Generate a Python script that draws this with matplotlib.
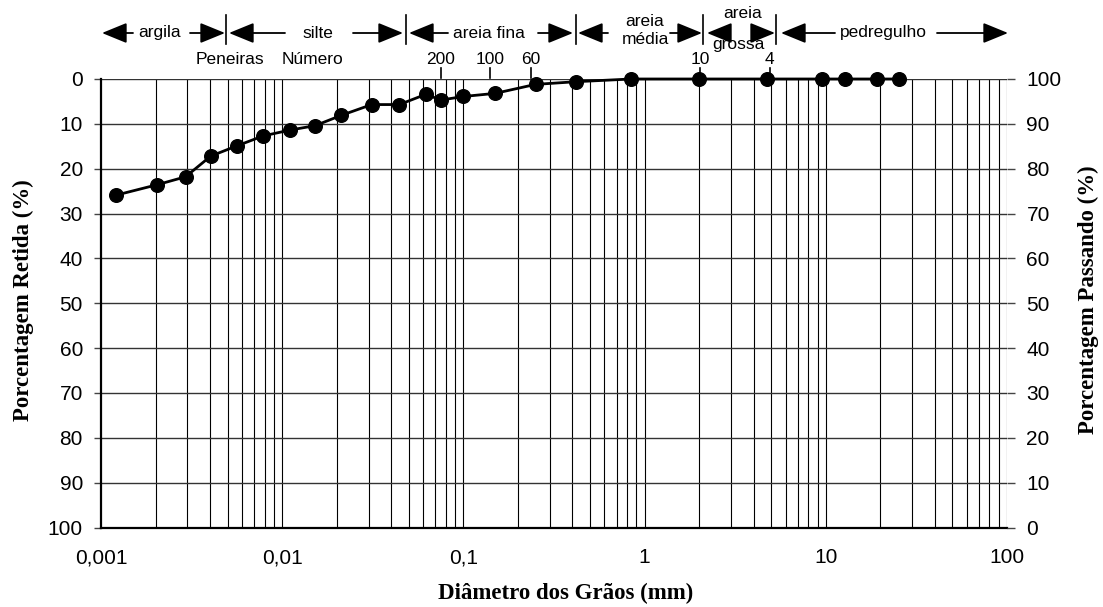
import numpy as np
import matplotlib
matplotlib.use("Agg")
import matplotlib.pyplot as plt
from matplotlib.patches import FancyArrowPatch
from matplotlib.ticker import FixedLocator, FixedFormatter, NullLocator

# ---- data ----
diametro = [0.00121, 0.00203, 0.00293, 0.00403, 0.00563, 0.00784, 0.0110, 0.0152,
            0.0212, 0.0312, 0.0443, 0.0622, 0.075, 0.10, 0.15, 0.25, 0.42, 0.84,
            2.0, 4.76, 9.5, 12.7, 19.1, 25.4]
retida = [25.9, 23.6, 21.8, 17.2, 14.9, 12.7, 11.4, 10.4, 8.1, 5.7, 5.7, 3.4,
          4.7, 3.9, 3.2, 1.2, 0.6, 0.0, 0.0, 0.0, 0.0, 0.0, 0.0, 0.0]

x_ticks = [0.001, 0.01, 0.1, 1, 10, 100]
x_labels = ["0,001", "0,01", "0,1", "1", "10", "100"]
y_ticks = [0, 10, 20, 30, 40, 50, 60, 70, 80, 90, 100]

# soil class boundaries (mm) and labels
limites = [0.0049, 0.048, 0.417, 2.1, 5.3]
classes = ["argila", "silte", "areia fina", "areia média", "areia grossa", "pedregulho"]
peneiras = ["200", "100", "60", "10", "4"]
peneiras_mm = [0.075, 0.140, 0.236, 2.02, 4.9]

sans = "Liberation Sans"
serif = "Liberation Serif"

W, H = 1103, 607
X0, X1, Y0, Y1 = 101, 1007, 79, 527.5

fig = plt.figure(figsize=(W/100, H/100), dpi=100)
ax = fig.add_axes([X0/W, 1-Y1/H, (X1-X0)/W, (Y1-Y0)/H])

ax.set_xscale("log")
ax.set_xlim(0.001, 100)
ax.set_ylim(100, 0)

# grid
for d in [0.001, 0.01, 0.1, 1, 10]:
    for m in range(1, 10):
        v = d * m
        if 0.001 < v < 100:
            ax.axvline(v, color="black", lw=0.8, zorder=1)
for yv in y_ticks[:-1]:
    ax.axhline(yv, color="#333333", lw=1.0, zorder=1)

ax.plot(diametro, retida, color="black", lw=2, marker="o", ms=9.8,
        markerfacecolor="black", zorder=5, clip_on=False)

ax.xaxis.set_major_locator(FixedLocator(x_ticks))
ax.xaxis.set_major_formatter(FixedFormatter(x_labels))
ax.xaxis.set_minor_locator(NullLocator())
ax.tick_params(axis="x", length=0, pad=15, labelsize=15)
ax.set_yticks(y_ticks)
ax.tick_params(axis="y", length=5, width=1, labelsize=15, pad=8, color="#444444")
for lab in ax.get_xticklabels() + ax.get_yticklabels():
    lab.set_fontfamily(sans)

for s in ["top", "right"]:
    ax.spines[s].set_visible(False)
ax.spines["left"].set_linewidth(1.6)
ax.spines["bottom"].set_linewidth(1.6)

ax2 = ax.twinx()
ax2.set_ylim(0, 100)
ax2.set_yticks(y_ticks)
ax2.tick_params(axis="y", length=6, width=1, labelsize=15, pad=8, color="#444444")
for lab in ax2.get_yticklabels():
    lab.set_fontfamily(sans)
for s in ["top", "left", "bottom", "right"]:
    ax2.spines[s].set_visible(False)
ax.axvline(100, color="black", lw=0.8, zorder=1)

fig.text(566/W, 1-593/H, "Diâmetro dos Grãos (mm)", fontfamily=serif, fontweight="bold",
         fontsize=16.5, ha="center", va="center")
fig.text(23/W, 1-300/H, "Porcentagem Retida (%)", fontfamily=serif, fontweight="bold",
         fontsize=16.5, ha="center", va="center", rotation=90)
fig.text(1088/W, 1-300/H, "Porcentagem Passando (%)", fontfamily=serif, fontweight="bold",
         fontsize=16.5, ha="center", va="center", rotation=90)

# ---- top annotation ----
def fx(v):
    return (X0 + (np.log10(v) + 3) * (X1 - X0) / 5) / W

def fy(py):
    return 1 - py / H

arrow_y = fy(33)
astyle = "-|>,head_length=1.1,head_width=0.45"

for b in limites:
    fig.add_artist(plt.Line2D([fx(b), fx(b)], [fy(15), fy(44)], color="black",
                              lw=1.2, transform=fig.transFigure))

# arrows in pixel positions: (tail, tip) pairs for left and right arrows
setas = [
    ((133, 102), (190, 225)),
    ((285, 229), (353, 403)),
    ((448, 409), (538, 573)),
    ((608, 578), (670, 702)),
    ((727, 707), (755, 775)),
    ((835, 781), (937, 1008)),
]
for (l, r) in setas:
    for tail, tip in (l, r):
        fig.add_artist(FancyArrowPatch((tail/W, arrow_y), (tip/W, arrow_y),
                                       transform=fig.transFigure, arrowstyle=astyle,
                                       color="black", linewidth=1.3,
                                       mutation_scale=14, shrinkA=0, shrinkB=0))

fs = 12.5
def t(x, y, s):
    fig.text(x/W, fy(y), s, ha="center", va="center", fontsize=fs, fontfamily=sans)

t(160, 33, classes[0])
t(318, 33, classes[1])
t(489, 33, classes[2])
t(645, 22, classes[3].split()[0])
t(645, 39, classes[3].split()[1])
t(743, 14, classes[4].split()[0])
t(738, 45, classes[4].split()[1])
t(883, 33, classes[5])

t(230, 59, "Peneiras")
t(312, 59, "Número")
for lab, v in zip(peneiras, peneiras_mm):
    fig.text(fx(v), fy(59), lab, ha="center", va="center", fontsize=fs, fontfamily=sans)
    fig.add_artist(plt.Line2D([fx(v), fx(v)], [fy(68), fy(78)], color="black",
                              lw=1.2, transform=fig.transFigure))

fig.savefig("out.png", dpi=100)
